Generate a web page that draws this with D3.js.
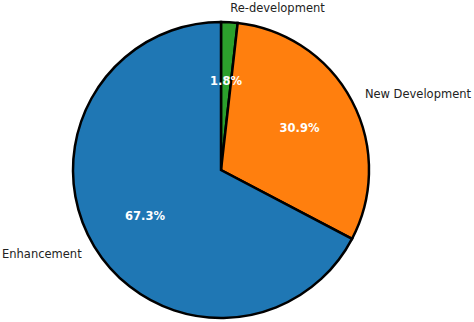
<!DOCTYPE html>
<html>
<head>
<meta charset="utf-8">
<script src="https://cdn.jsdelivr.net/npm/d3@7"></script>
<style>
  body { margin: 0; background: #fff; }
  text { font-family: "DejaVu Sans", sans-serif; }
</style>
</head>
<body>
<div id="chart"></div>
<script>
// Data
const categories = ["Re-development", "New Development", "Enhancement"];
const shares = [1.8, 30.9, 67.3];
const colours = ["#2ca02c", "#ff7f0e", "#1f77b4"];

const width = 474, height = 322;
const cx = 221, cy = 170, radius = 148;

const svg = d3.select("#chart").append("svg")
    .attr("width", width)
    .attr("height", height);

const g = svg.append("g").attr("transform", "translate(" + cx + "," + cy + ")");

// Clockwise from 12 o'clock, keep data order
const pie = d3.pie().sort(null).value(d => d.value);
const data = pie(categories.map((c, i) => ({ name: c, value: shares[i], colour: colours[i] })));

const arc = d3.arc().innerRadius(0).outerRadius(radius);

g.selectAll("path.slice")
    .data(data)
    .join("path")
    .attr("class", "slice")
    .attr("d", arc)
    .style("fill", d => d.data.colour)
    .style("stroke", "black")
    .style("stroke-width", 2.5)
    .style("stroke-linejoin", "miter");

function midAngle(d) { return (d.startAngle + d.endAngle) / 2; }

// Outer category labels
g.selectAll("text.label")
    .data(data)
    .join("text")
    .attr("class", "label")
    .attr("x", d => Math.sin(midAngle(d)) * radius * 1.1)
    .attr("y", d => -Math.cos(midAngle(d)) * radius * 1.1)
    .attr("dy", "0.35em")
    .attr("text-anchor", d => Math.sin(midAngle(d)) >= 0 ? "start" : "end")
    .style("font-size", "11.5px")
    .style("fill", "#222")
    .text(d => d.data.name);

// Percentage labels
g.selectAll("text.pct")
    .data(data)
    .join("text")
    .attr("class", "pct")
    .attr("x", d => Math.sin(midAngle(d)) * radius * 0.6)
    .attr("y", d => -Math.cos(midAngle(d)) * radius * 0.6)
    .attr("dy", "0.35em")
    .attr("text-anchor", "middle")
    .style("font-size", "11.5px")
    .style("font-weight", "bold")
    .style("fill", "white")
    .text(d => d.data.value.toFixed(1) + "%");
</script>
</body>
</html>
